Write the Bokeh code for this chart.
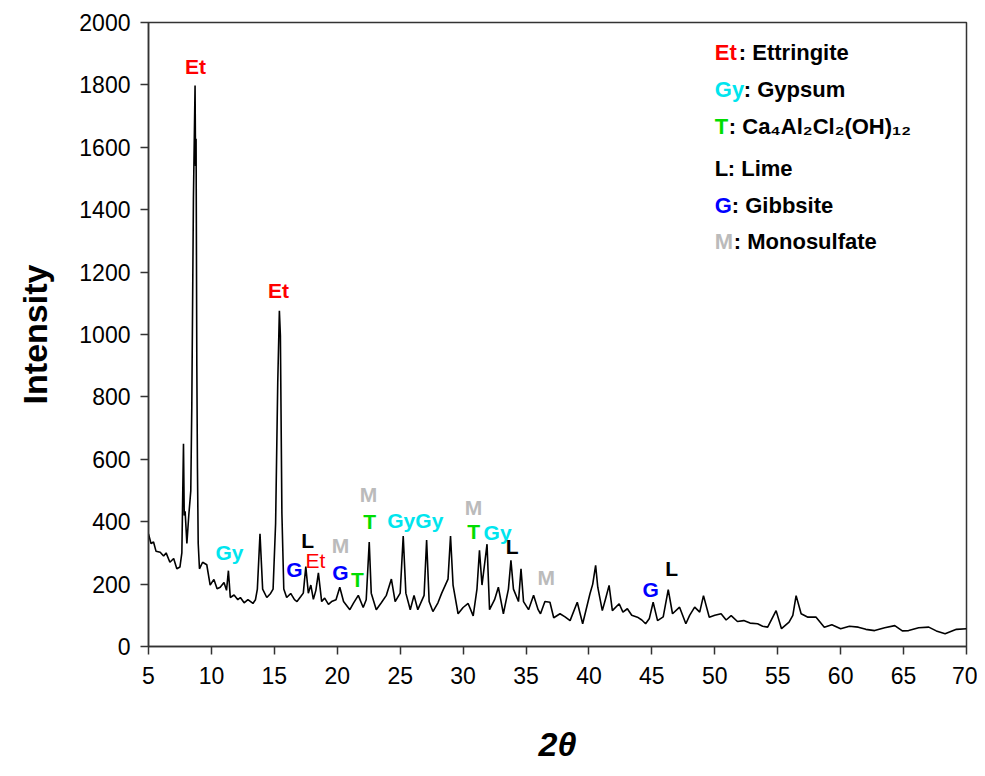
from bokeh.plotting import figure
from bokeh.models import Range1d, FixedTicker
from bokeh.core.properties import value
from bokeh.embed import file_html
from bokeh.resources import INLINE

two_theta = [5.0, 5.2, 5.4, 5.6, 5.93, 6.2, 6.4, 6.7, 7.0, 7.25, 7.5, 7.65, 7.78, 7.84, 7.91, 8.05, 8.2, 8.36, 8.44, 8.57, 8.70, 8.74, 8.78, 8.84, 8.89, 8.95, 9.05, 9.3, 9.63, 9.9, 10.2, 10.45, 10.7, 11.0, 11.2, 11.35, 11.5, 11.8, 12.1, 12.3, 12.6, 12.9, 13.3, 13.5, 13.65, 13.86, 14.07, 14.4, 14.7, 14.9, 15.1, 15.27, 15.4, 15.48, 15.6, 15.75, 15.98, 16.3, 16.6, 16.8, 17.1, 17.3, 17.5, 17.7, 17.9, 18.1, 18.3, 18.5, 18.76, 19.0, 19.3, 19.55, 19.9, 20.2, 20.5, 21.0, 21.3, 21.67, 22.06, 22.3, 22.54, 22.7, 23.1, 23.5, 23.9, 24.3, 24.6, 25.0, 25.24, 25.45, 25.8, 26.1, 26.4, 26.9, 27.1, 27.3, 27.6, 28.0, 28.3, 28.8, 29.0, 29.2, 29.6, 30.0, 30.4, 30.8, 31.1, 31.3, 31.5, 31.7, 31.9, 32.1, 32.5, 32.8, 33.2, 33.6, 33.8, 34.0, 34.4, 34.6, 34.8, 35.2, 35.6, 35.96, 36.15, 36.5, 36.9, 37.2, 37.7, 38.1, 38.5, 39.07, 39.5, 40.08, 40.3, 40.53, 40.7, 41.06, 41.3, 41.6, 41.86, 42.4, 42.7, 43.05, 43.4, 43.85, 44.2, 44.5, 44.8, 45.1, 45.45, 45.9, 46.3, 46.64, 47.2, 47.7, 48.0, 48.4, 48.8, 49.1, 49.56, 50.0, 50.5, 50.9, 51.3, 51.8, 52.3, 52.8, 53.4, 53.8, 54.2, 54.87, 55.3, 55.9, 56.2, 56.46, 56.86, 57.4, 58.05, 58.7, 59.3, 60.0, 60.7, 61.4, 62.0, 62.7, 63.5, 64.3, 64.9, 65.4, 66.2, 67.0, 67.6, 68.3, 69.2, 70.0]
intensity = [361, 330, 335, 305, 302, 290, 300, 270, 282, 249, 255, 300, 650, 420, 433, 330, 420, 499, 768, 1437, 1798, 1540, 1627, 900, 571, 330, 249, 270, 262, 197, 215, 185, 190, 205, 180, 243, 157, 165, 150, 157, 140, 150, 138, 150, 184, 361, 184, 157, 170, 184, 394, 846, 1076, 997, 427, 184, 157, 170, 150, 144, 160, 171, 256, 171, 197, 151, 180, 236, 144, 155, 135, 144, 150, 190, 144, 118, 140, 164, 125, 150, 335, 171, 118, 140, 164, 216, 144, 171, 354, 171, 118, 164, 118, 164, 341, 144, 112, 140, 171, 216, 354, 197, 105, 125, 138, 98, 184, 308, 197, 262, 328, 118, 150, 190, 105, 184, 276, 184, 144, 249, 144, 118, 164, 118, 105, 144, 142, 92, 105, 95, 83, 142, 73, 169, 200, 260, 190, 115, 150, 196, 115, 137, 110, 121, 100, 94, 85, 73, 90, 142, 83, 95, 182, 105, 126, 73, 100, 126, 110, 163, 94, 100, 105, 85, 99, 80, 83, 75, 73, 65, 62, 115, 57, 78, 100, 163, 105, 94, 94, 62, 70, 57, 65, 62, 55, 51, 60, 67, 50, 51, 60, 62, 50, 41, 55, 57]

peak_labels = ["Et", "Et", "Gy", "L", "G", "M", "G", "T", "M", "T", "GyGy", "M", "T", "Gy", "L", "M", "G", "L"]
peak_x = [8.74, 15.33, 11.44, 17.64, 16.6, 20.26, 20.26, 21.6, 22.49, 22.57, 26.2, 30.83, 30.83, 32.74, 33.9, 36.6, 44.9, 46.57]
peak_y = [1859, 1141, 301, 340, 247, 324, 237, 215, 487, 401, 404, 446, 369, 365, 320, 221, 183, 250]
peak_colors = ["#ff0000", "#ff0000", "#00e5ee", "#000000", "#0000ff", "#bbbbbb", "#0000ff", "#00dd00", "#bbbbbb", "#00dd00", "#00e5ee", "#bbbbbb", "#00dd00", "#00e5ee", "#000000", "#bbbbbb", "#0000ff", "#000000"]
thin_label = ["Et"]
thin_x = [18.27]
thin_y = [276]

legend_abbr = ["Et", "Gy", "T", "L", "G", "M"]
legend_names = ["Ettringite", "Gypsum", "Ca₄Al₂Cl₂(OH)₁₂", "Lime", "Gibbsite", "Monosulfate"]
legend_colors = ["#ff0000", "#00e5ee", "#00dd00", "#000000", "#0000ff", "#bbbbbb"]
legend_y = [1904, 1785, 1667, 1532, 1413, 1298]
legend_x = [50.0] * 6

x_ticks = list(range(5, 71, 5))
y_ticks = list(range(0, 2001, 200))

FONT = "Liberation Sans"

p = figure(width=977, height=768, output_backend="svg", toolbar_location=None,
           x_range=Range1d(5, 70), y_range=Range1d(0, 2000),
           min_border_left=148, min_border_right=11, min_border_top=22, min_border_bottom=122)
p.grid.visible = False
p.outline_line_color = "#333333"
p.outline_line_width = 1.5
p.background_fill_color = "white"

p.line(two_theta, intensity, line_color="black", line_width=1.6)

p.text(peak_x, peak_y, text=peak_labels, text_color=peak_colors, text_font=value(FONT),
       text_font_size="21px", text_font_style="bold", text_align="center", text_baseline="middle")
p.text(thin_x, thin_y, text=thin_label, text_color="#ff0000", text_font=value(FONT),
       text_font_size="21px", text_align="center", text_baseline="middle")

abbr_w = {"Et": 24, "Gy": 29, "T": 14, "L": 13, "G": 17, "M": 19}
p.text(legend_x, legend_y, text=legend_abbr, text_color=legend_colors, text_font=value(FONT),
       text_font_size="22px", text_font_style="bold", text_align="left", text_baseline="middle")
for a, n, y in zip(legend_abbr, legend_names, legend_y):
    p.text([50.0], [y], text=[": " + n], text_color="black", text_font=value(FONT),
           text_font_size="22px", text_font_style="bold", text_align="left",
           text_baseline="middle", x_offset=abbr_w[a])

for ax in (p.xaxis[0], p.yaxis[0]):
    ax.major_label_text_font = FONT
    ax.major_label_text_font_size = "23px"
    ax.major_label_text_color = "black"
    ax.axis_line_color = "#333333"
    ax.axis_line_width = 1.5
    ax.major_tick_line_color = "#333333"
    ax.major_tick_line_width = 1.5
    ax.major_tick_out = 8
    ax.major_tick_in = 0
    ax.minor_tick_line_color = None
    ax.axis_label_text_font = FONT
    ax.axis_label_text_font_size = "34px"
    ax.axis_label_text_color = "black"

p.xaxis[0].ticker = FixedTicker(ticks=x_ticks)
p.yaxis[0].ticker = FixedTicker(ticks=y_ticks)
p.xaxis[0].axis_label = "2θ"
p.xaxis[0].axis_label_text_font_style = "bold italic"
p.xaxis[0].axis_label_standoff = 38
p.yaxis[0].axis_label = "Intensity"
p.yaxis[0].axis_label_text_font_style = "bold"
p.yaxis[0].axis_label_standoff = 22
p.yaxis[0].major_label_standoff = 10
p.xaxis[0].major_label_standoff = 12

open("out.html", "w").write(file_html(p, INLINE))
